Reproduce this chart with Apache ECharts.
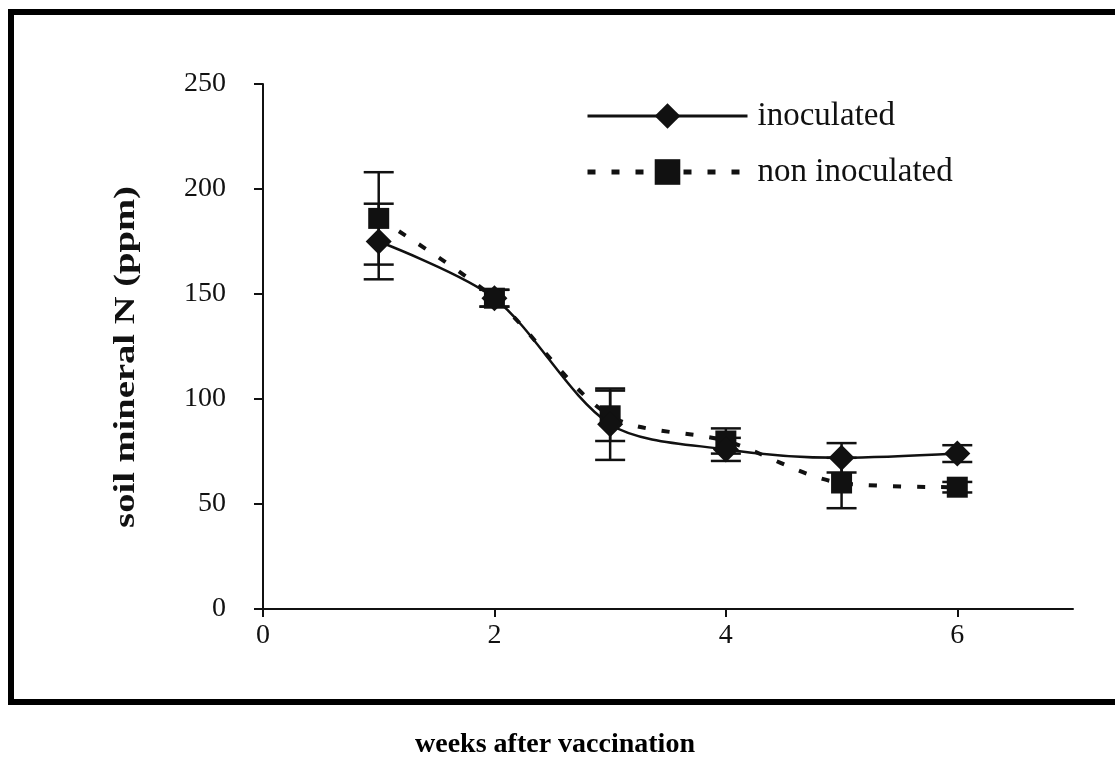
<!DOCTYPE html>
<html>
<head>
<meta charset="utf-8">
<script src="https://cdn.jsdelivr.net/npm/echarts@6/dist/echarts.min.js"></script>
<style>
  html, body { margin: 0; padding: 0; background: #fff; }
  #main { width: 1115px; height: 776px; }
</style>
</head>
<body>
<div id="main"></div>
<script>
var weeks = [1, 2, 3, 4, 5, 6];
var inoculated = [175, 148, 88, 76, 72, 74];
var inoculatedErr = [18, 4, 17, 5.5, 7, 4];
var nonInoculated = [186, 148, 92, 80, 60, 58];
var nonInoculatedErr = [22, 4, 12, 6, 12, 2.5];
var xTicks = [0, 2, 4, 6];

var chartDom = document.getElementById('main');
var myChart = echarts.init(chartDom);
var option;

var serif = '"Liberation Serif", "DejaVu Serif", serif';

function pairs(ys) {
  return weeks.map(function (w, i) { return [w, ys[i]]; });
}

function errData(ys, errs) {
  return weeks.map(function (w, i) { return [w, ys[i] - errs[i], ys[i] + errs[i]]; });
}

function renderErr(params, api) {
  var lo = api.coord([api.value(0), api.value(1)]);
  var hi = api.coord([api.value(0), api.value(2)]);
  var half = 15;
  var style = { stroke: '#111', lineWidth: 2.5 };
  return {
    type: 'group',
    children: [
      { type: 'line', shape: { x1: lo[0], y1: lo[1], x2: hi[0], y2: hi[1] }, style: style },
      { type: 'line', shape: { x1: lo[0] - half, y1: lo[1], x2: lo[0] + half, y2: lo[1] }, style: style },
      { type: 'line', shape: { x1: hi[0] - half, y1: hi[1], x2: hi[0] + half, y2: hi[1] }, style: style }
    ]
  };
}

option = {
  backgroundColor: '#fff',
  animation: false,
  graphic: [
    {
      type: 'rect',
      shape: { x: 11, y: 12, width: 1115, height: 690 },
      style: { fill: 'none', stroke: '#000', lineWidth: 6 }
    },
    {
      // y axis title, stretched along its length like the reference
      type: 'text',
      x: 127,
      y: 357,
      rotation: Math.PI / 2,
      scaleX: 1.33,
      style: {
        text: 'soil mineral N (ppm)',
        font: 'bold 29px ' + serif,
        fill: '#111',
        align: 'center',
        verticalAlign: 'middle'
      }
    },
    {
      type: 'text',
      x: 555,
      y: 745,
      style: {
        text: 'weeks after vaccination',
        font: 'bold 28px ' + serif,
        fill: '#000',
        align: 'center',
        verticalAlign: 'middle'
      }
    }
  ],
  grid: {
    left: 263,
    right: 42,
    top: 84,
    bottom: 167
  },
  legend: {
    orient: 'vertical',
    left: 585,
    top: 99,
    padding: 0,
    itemWidth: 160,
    itemHeight: 32,
    itemGap: 22,
    textStyle: {
      fontFamily: serif,
      fontSize: 33,
      lineHeight: 34,
      color: '#111',
      padding: [0, 0, 0, 5]
    },
    data: [
      { name: 'inoculated', lineStyle: { width: 3 } },
      { name: 'non inoculated', lineStyle: { width: 5 } }
    ]
  },
  xAxis: {
    type: 'value',
    min: 0,
    max: 7,
    interval: 1,
    splitLine: { show: false },
    axisLine: { lineStyle: { color: '#111', width: 2 } },
    axisTick: {
      length: 8,
      customValues: xTicks,
      lineStyle: { color: '#111', width: 2 }
    },
    axisLabel: {
      customValues: xTicks,
      margin: 13,
      fontFamily: serif,
      fontSize: 28,
      color: '#111'
    }
  },
  yAxis: {
    type: 'value',
    min: 0,
    max: 250,
    interval: 50,
    splitLine: { show: false },
    axisLine: { show: true, lineStyle: { color: '#111', width: 2 } },
    axisTick: { show: true, length: 9, lineStyle: { color: '#111', width: 2 } },
    axisLabel: {
      margin: 37,
      fontFamily: serif,
      fontSize: 28,
      color: '#111'
    }
  },
  series: [
    {
      name: 'inoculated err',
      type: 'custom',
      renderItem: renderErr,
      data: errData(inoculated, inoculatedErr),
      z: 1
    },
    {
      name: 'non inoculated err',
      type: 'custom',
      renderItem: renderErr,
      data: errData(nonInoculated, nonInoculatedErr),
      z: 1
    },
    {
      name: 'non inoculated',
      type: 'line',
      data: pairs(nonInoculated),
      smooth: 0.3,
      symbol: 'rect',
      symbolSize: 21,
      itemStyle: { color: '#111' },
      lineStyle: { color: '#111', width: 4, type: [8, 16], cap: 'butt' },
      z: 3
    },
    {
      name: 'inoculated',
      type: 'line',
      data: pairs(inoculated),
      smooth: 0.3,
      symbol: 'diamond',
      symbolSize: [26, 26],
      itemStyle: { color: '#111' },
      lineStyle: { color: '#111', width: 2.5 },
      z: 4
    }
  ]
};

option && myChart.setOption(option);
</script>
</body>
</html>
